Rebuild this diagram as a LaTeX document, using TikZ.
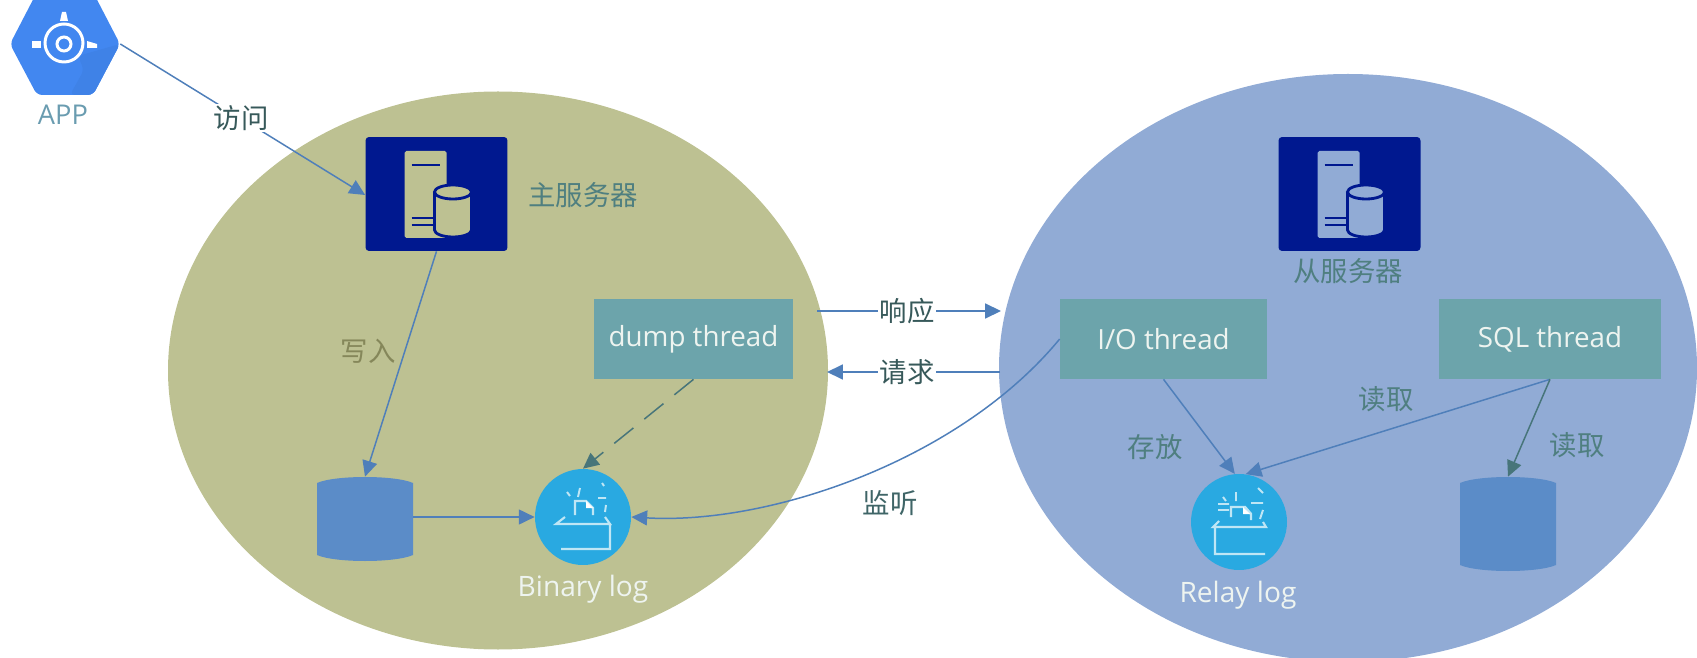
\documentclass[tikz,border=0pt]{standalone}
\usepackage{fontspec}
\setmainfont{Open Sans}
\newfontfamily\cjk{Noto Sans CJK SC}
\usetikzlibrary{arrows.meta}
\definecolor{oliveback}{HTML}{BDC192}
\definecolor{blueback}{HTML}{91ABD5}
\definecolor{srvblue}{HTML}{00188F}
\definecolor{threadbox}{HTML}{6CA4AB}
\definecolor{dbblue}{HTML}{5B8CC8}
\definecolor{logblue}{HTML}{29A9E1}
\definecolor{hexblue}{HTML}{4287F0}
\definecolor{linkblue}{HTML}{4F7FBA}
\definecolor{linkteal}{HTML}{47757A}
\definecolor{labelteal}{HTML}{4F7F80}
\definecolor{labelolive}{HTML}{85875A}
\definecolor{applabel}{HTML}{6A9CB0}
\definecolor{softwhite}{HTML}{EEF4F0}
\definecolor{iconwhite}{HTML}{BFE6F5}
\tikzset{
	link/.style={draw=linkblue,line width=0.85pt,-{Triangle[length=9pt,width=8.5pt]}},
	tealink/.style={link,draw=linkteal},
	threadbox/.style={fill=threadbox,minimum width=#1,minimum height=1.6cm,inner sep=0pt,text=softwhite,font=\fontsize{15.8}{18}\selectfont},
	srvbox/.style={fill=srvblue,rounded corners=2pt,minimum width=2.84cm,minimum height=2.28cm},
	dbnode/.style={minimum width=1.92cm,minimum height=#1,inner sep=0pt},
	logdisc/.style={circle,fill=logblue,minimum size=1.92cm,inner sep=0pt},
	lbl/.style={font=\cjk\fontsize{15.6}{18}\selectfont,text=labelteal,inner sep=1pt},
	onlink/.style={lbl,fill=white,text=black!30!labelteal},
	latinlbl/.style={lbl,text=softwhite,font=\fontsize{16}{18}\selectfont},
	pics/dbdrum/.style={code={
		\fill[dbblue] (-48,-#1+6) .. controls (-30,-#1-2) and (30,-#1-2) .. (48,-#1+6) -- (48,#1-6) .. controls (30,#1+2) and (-30,#1+2) .. (-48,#1-6) -- cycle;
	}},
	pics/dbserver/.style={code={
		\fill[#1,rounded corners=1pt] (-32,-43) rectangle (10,44);
		\draw[srvblue,line width=1.6pt] (-25,-29) -- (3,-29) (-25,24) -- (-4,24) (-25,31) -- (-4,31);
		\fill[#1] (-2,-2) rectangle (35,36);
		\fill[#1] (16.5,36) ellipse [x radius=18.5,y radius=7];
		\draw[srvblue,line width=1.6pt] (-2,-2) -- (-2,36) arc[x radius=18.5,y radius=7,start angle=180,end angle=0] -- (35,-2);
		\draw[srvblue,line width=1.6pt,fill=#1] (16.5,-2) ellipse [x radius=18.5,y radius=7];
	}},
	pics/binbox/.style={code={
		\draw[iconwhite,line width=1.2pt] (-18,0) -- (-27,7) -- (27,7) -- (22,0) (27,7) -- (27,32) -- (-22,32);
		\draw[iconwhite,line width=1.4pt] (-8,-2) -- (-8,-16) -- (3,-16) -- (10,-9) -- (10,-2);
		\fill[white] (3,-16) -- (10,-9) -- (3,-9) -- cycle;
		\draw[iconwhite,line width=1.1pt] (-16,-25) -- (-13,-21) (-3,-29) -- (-5,-20) (19,-34) -- (21,-31) (15,-19) -- (23,-19) (23,-12) -- (22,-5);
	}},
	pics/relaybox/.style={code={
		\draw[iconwhite,line width=1.2pt] (-20,-1) -- (-26,5) -- (27,5) -- (24,0) (-24,5) -- (-24,32) -- (26,32);
		\draw[iconwhite,line width=1.4pt] (-8,-5) -- (-8,-15) -- (6,-15) -- (12,-8) -- (12,-2);
		\fill[white] (4,-15) -- (11,-8) -- (4,-8) -- cycle;
		\draw[iconwhite,line width=1.1pt] (-16,-25) -- (-13,-21) (-3,-30) -- (-3,-21) (19,-34) -- (24,-29) (12,-19) -- (24,-19) (24,-12) -- (21,-3) (-21,-18) -- (-10,-18) (-21,-12) -- (-10,-12);
	}}
}

\begin{document}
\begin{tikzpicture}[x=0.02cm,y=-0.02cm]
	\useasboundingbox (0,0) rectangle (1697,658);
	\clip (0,0) rectangle (1697,658);

	% two server zones
	\fill[oliveback] (498,370.5) ellipse [x radius=330,y radius=279];
	\fill[blueback] (1348,368) ellipse [x radius=349,y radius=294];

	% app hexagon
	\fill[hexblue,rounded corners=3pt] (10,44) -- (37,-8) -- (93,-8) -- (120,44) -- (93,95) -- (37,95) -- cycle;
	\fill[black!4!hexblue,rounded corners=3pt] (78,56) -- (120,44) -- (93,95) -- (70,95) -- (84,70) -- cycle;
	\draw[white,line width=1.7pt] (64,43) circle (19);
	\draw[white,line width=1.7pt] (64,44) circle (7);
	\fill[white] (60,21) -- (62,12) -- (66,12) -- (68,21) -- cycle;
	\fill[white] (32,41) -- (41,41) -- (41,48) -- (32,48) -- cycle;
	\fill[white] (87,41) -- (97,44) -- (97,48) -- (87,48) -- cycle;
	\node (app) at (65,44) [minimum width=2.2cm,minimum height=2cm,inner sep=0pt] {};
	\node (applbl) at (63,115) [lbl,text=applabel,font=\fontsize{15.5}{18}\selectfont] {APP};

	% servers
	\node (master) at (436.5,194) [srvbox] {};
	\pic at (master.center) {dbserver=oliveback};
	\node (masterlbl) at (583,195) [lbl] {主服务器};
	\node (slave) at (1349.5,194) [srvbox] {};
	\pic at (slave.center) {dbserver=blueback};
	\node (slavelbl) at (1348,271) [lbl] {从服务器};

	% threads
	\node (dump) at (693.5,339) [threadbox=3.98cm] {dump thread};
	\node (iothread) at (1163.5,339) [threadbox=4.14cm] {I/O thread};
	\node (sqlthread) at (1550,339) [threadbox=4.44cm] {SQL thread};

	% databases and logs
	\node (dbleft) at (365,519) [dbnode=1.68cm] {};
	\pic at (dbleft.center) {dbdrum=42};
	\node (dbright) at (1508,524) [dbnode=1.88cm] {};
	\pic at (dbright.center) {dbdrum=47};
	\node (binlog) at (583,517) [logdisc] {};
	\pic at (binlog.center) {binbox};
	\node (binlbl) at (583,589) [latinlbl] {Binary log};
	\node (relaylog) at (1239,522) [logdisc] {};
	\pic at (relaylog.center) {relaybox};
	\node (relaylbl) at (1238,595) [latinlbl] {Relay log};

	% free ends beside the threads
	\coordinate (respfrom) at (817,311);
	\coordinate (respto) at (1001,311);
	\coordinate (reqfrom) at (1000,372);
	\coordinate (reqto) at (827,372);

	% links
	\draw[link] (app.east) -- (master.west |- 0,195);
	\node (visit) at (241,118) [onlink] {访问};
	\draw[link] (master.south) -- (dbleft.north);
	\node (writelbl) at (368,351) [lbl,text=labelolive] {写入};
	\draw[link] (dbleft.east |- binlog.west) -- (binlog.west);
	\draw[tealink,dash pattern=on 14pt off 8pt] (dump.south) -- (binlog.north);
	\draw[link] (respfrom) -- (respto);
	\node (resplbl) at (907,311) [onlink] {响应};
	\draw[link] (reqfrom) -- (reqto);
	\node (reqlbl) at (907,372) [onlink] {请求};
	\draw[link] (iothread.west) .. controls (960,460) and (770,525) .. (binlog.east);
	\node (listenlbl) at (890,503) [lbl,text=labelteal!80!black] {监听};
	\draw[link] (iothread.south) -- (relaylog.95);
	\node (storelbl) at (1155,447) [lbl] {存放};
	\draw[link] (sqlthread.south) -- (relaylog.82);
	\node (readone) at (1386,399) [lbl] {读取};
	\draw[tealink] (sqlthread.south) -- (dbright.north);
	\node (readtwo) at (1577,445) [lbl] {读取};
\end{tikzpicture}
\end{document}
